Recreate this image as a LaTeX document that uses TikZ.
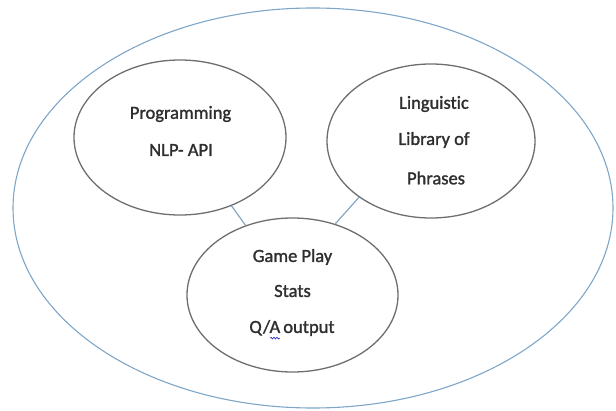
\documentclass[tikz,border=0pt]{standalone}
\usepackage{fontspec}
\setmainfont{Carlito}
\newfontfamily\lblfont[FakeBold=1.4,Ligatures=NoCommon]{Carlito}
\usetikzlibrary{shapes.geometric,decorations.pathmorphing}
\definecolor{ringgray}{HTML}{6E6E6E}
\definecolor{outerblue}{HTML}{7EA6C8}
\definecolor{linkblue}{HTML}{86A6C2}
\definecolor{txtgray}{HTML}{2E2E2E}
\begin{document}
\begin{tikzpicture}[x=1pt,y=1pt,
  bubble/.style={draw=ringgray,line width=1.3pt,ellipse,inner sep=0pt},
  lbl/.style={text=txtgray,font=\lblfont\fontsize{18.5}{18.5}\selectfont,inner sep=0pt},
  link/.style={draw=linkblue,line width=1.2pt}]
\useasboundingbox (0,0) rectangle (616,410);
% enclosing ellipse
\node[draw=outerblue,line width=1.1pt,ellipse,inner sep=0pt,
      minimum width=600pt,minimum height=400pt] (outer) at (313,202) {};
% the three component bubbles
\node[bubble,minimum width=212pt,minimum height=155pt] (prog) at (180,272.5) {};
\node[bubble,minimum width=208pt,minimum height=154pt] (ling) at (431,269) {};
\node[bubble,minimum width=211pt,minimum height=154pt] (game) at (292.5,115) {};
% connectors
\draw[link] (prog.307) -- (game.124);
\draw[link] (ling.218) -- (game.59);
% labels
\node[lbl] (t1) at (180.5,296) {Programming};
\node[lbl] (t2) at (181,260) {NLP- API};
\node[lbl] (t3) at (434,306) {Linguistic};
\node[lbl] (t4) at (434,270) {Library of};
\node[lbl] (t5) at (436,232) {Phrases};
\node[lbl] (t6) at (292.5,153) {Game Play};
\node[lbl] (t7) at (292.5,119) {Stats};
\node[lbl] (t8) at (292,82) {Q/A\,output};
% spell-check squiggle under the A
\draw[blue!70!black,line width=0.5pt,decorate,
      decoration={snake,amplitude=0.9pt,segment length=3pt}]
  ([xshift=-22pt,yshift=-2pt]t8.south) -- ([xshift=-12pt,yshift=-2pt]t8.south);
\end{tikzpicture}
\end{document}
